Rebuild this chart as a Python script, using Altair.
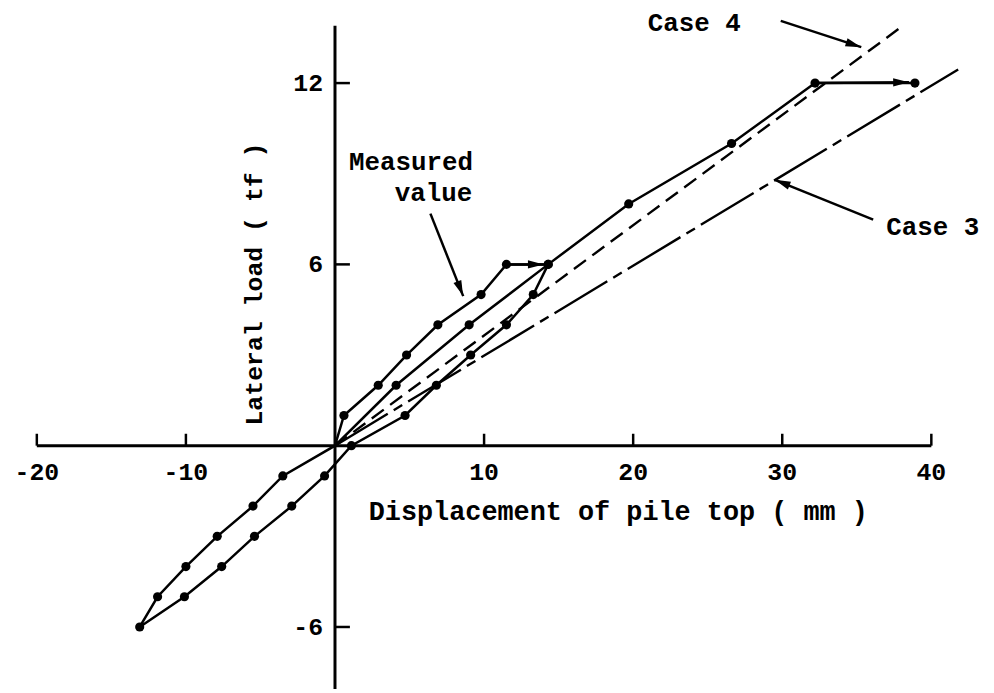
import altair as alt
import pandas as pd
import numpy as np

# ---------------- data ----------------
# measured load path (mm, tf) in loading order
meas_x = [0, 0.6, 2.9, 4.8, 6.9, 9.8, 11.5, 14.3, 13.3, 11.5, 9.1, 6.8, 4.7, 1.1,
          -0.7, -2.9, -5.4, -7.6, -10.1, -13.1, -11.9, -10.0, -7.9, -5.5, -3.5, 0,
          4.1, 9.0, 14.3, 19.7, 26.6, 32.2, 38.9]
meas_y = [0, 1, 2, 3, 4, 5, 6, 6, 5, 4, 3, 2, 1, 0,
          -1, -2, -3, -4, -5, -6, -5, -4, -3, -2, -1, 0,
          2, 4, 6, 8, 10, 12, 12]

# computed cases (straight lines from origin)
case_names = ["Case 4", "Case 3"]
case_x_end = [38.1, 41.8]
case_y_end = [13.9, 12.45]

# axes
x_ticks = [-20, -10, 10, 20, 30, 40]
x_tick_labels = ["-20", "-10", "10", "20", "30", "40"]
y_ticks = [12, 6, -6]
y_tick_labels = ["12", "6", "-6"]
x_axis_range = [-20, 40]
y_axis_range = [-8.05, 13.9]

# annotations
ann_text = ["Measured", "value", "Case 4", "Case 3"]
ann_x = [5.1, 6.6, 24.1, 40.1]
ann_y = [9.4, 8.35, 14.0, 7.25]

arrow_x0 = [6.4, 29.9, 36.1, 11.5, 32.2]
arrow_y0 = [7.68, 14.06, 7.48, 6.0, 12.0]
arrow_x1 = [8.6, 35.3, 29.5, 14.0, 38.5]
arrow_y1 = [4.95, 13.19, 8.8, 6.0, 12.03]

x_title = "Displacement of pile top ( mm )"
y_title = "Lateral load ( tf )"

# ---------------- layout ----------------
X_DOM = [-20, 43]
Y_DOM = [-8.05, 14.35]
W = 945
H = 681
PXX = W / (X_DOM[1] - X_DOM[0])
PXY = H / (Y_DOM[1] - Y_DOM[0])

FONT = "Liberation Mono"
xs = alt.Scale(domain=X_DOM, nice=False, zero=False)
ys = alt.Scale(domain=Y_DOM, nice=False, zero=False)


def X(f="x"):
    return alt.X(f"{f}:Q", scale=xs, axis=None)


def Y(f="y"):
    return alt.Y(f"{f}:Q", scale=ys, axis=None)


# axes lines
axes_df = pd.DataFrame({
    "x": [x_axis_range[0], 0], "x2": [x_axis_range[1], 0],
    "y": [0, y_axis_range[0]], "y2": [0, y_axis_range[1]],
})
axes = alt.Chart(axes_df).mark_rule(color="black", strokeWidth=3).encode(
    x=X(), x2="x2:Q", y=Y(), y2="y2:Q")

xt_df = pd.DataFrame({"x": x_ticks, "y": 0, "y2": 12 / PXY, "lab": x_tick_labels})
xt = alt.Chart(xt_df).mark_rule(color="black", strokeWidth=2.5).encode(
    x=X(), y=Y(), y2="y2:Q")
xl = alt.Chart(xt_df).mark_text(font=FONT, fontSize=25, fontWeight="bold",
                                dy=27, align="center", baseline="middle").encode(
    x=X(), y=Y(), text="lab:N")

yt_df = pd.DataFrame({"x": 0, "x2": 15 / PXX, "y": y_ticks, "lab": y_tick_labels})
yt = alt.Chart(yt_df).mark_rule(color="black", strokeWidth=2.5).encode(
    x=X(), x2="x2:Q", y=Y())
yl = alt.Chart(yt_df).mark_text(font=FONT, fontSize=25, fontWeight="bold",
                                dx=-12, align="right", baseline="middle").encode(
    x=X(), y=Y(), text="lab:N")

# case lines
c4 = pd.DataFrame({"x": [0, case_x_end[0]], "y": [0, case_y_end[0]]})
c3 = pd.DataFrame({"x": [0, case_x_end[1]], "y": [0, case_y_end[1]]})
case4 = alt.Chart(c4).mark_line(color="black", strokeWidth=2.4, strokeDash=[15, 8]).encode(x=X(), y=Y())
case3 = alt.Chart(c3).mark_line(color="black", strokeWidth=2.4, strokeDash=[62, 7, 10, 7]).encode(x=X(), y=Y())

# measured
mdf = pd.DataFrame({"x": meas_x, "y": meas_y, "o": range(len(meas_x))})
mline = alt.Chart(mdf).mark_line(color="black", strokeWidth=2.5).encode(
    x=X(), y=Y(), order="o:Q")
mpts = alt.Chart(mdf).transform_filter("datum.x != 0 || datum.y != 0").mark_point(
    filled=True, color="black", opacity=1, size=85, shape="circle").encode(x=X(), y=Y())

# arrows
adf = pd.DataFrame({"x": arrow_x0, "y": arrow_y0, "x2": arrow_x1, "y2": arrow_y1})
adf["ang"] = (np.degrees(np.arctan2((adf["x2"] - adf["x"]) * PXX,
                                    (adf["y2"] - adf["y"]) * PXY)) + 360) % 360
shafts = alt.Chart(adf).mark_rule(color="black", strokeWidth=2.5).encode(
    x=X(), x2="x2:Q", y=Y(), y2="y2:Q")
heads = alt.Chart(adf).mark_point(filled=True, color="black", opacity=1, size=280,
                                  shape="M0,0L0.5,1.9L-0.5,1.9Z").encode(
    x=X("x2"), y=Y("y2"), angle=alt.Angle("ang:Q", scale=None))

# annotation texts
tdf = pd.DataFrame({"x": ann_x, "y": ann_y, "t": ann_text})
texts = alt.Chart(tdf).mark_text(font=FONT, fontSize=26, fontWeight="bold",
                                 align="center", baseline="middle").encode(
    x=X(), y=Y(), text="t:N")

# axis titles
xtd = pd.DataFrame({"x": [19.0], "y": [-2.2], "t": [x_title]})
xtitle = alt.Chart(xtd).mark_text(font=FONT, fontSize=27, fontWeight="bold",
                                  align="center", baseline="middle").encode(
    x=X(), y=Y(), text="t:N")
ytd = pd.DataFrame({"x": [-5.4], "y": [5.35], "t": [y_title]})
ytitle = alt.Chart(ytd).mark_text(font=FONT, fontSize=25, fontWeight="bold", angle=270,
                                  align="center", baseline="middle").encode(
    x=X(), y=Y(), text="t:N")

chart = alt.layer(axes, xt, yt, xl, yl, case4, case3, mline, mpts, shafts, heads,
                  texts, xtitle, ytitle).properties(
    width=W, height=H,
    autosize=alt.AutoSizeParams(type="none"),
    padding={"left": 29, "top": 2, "right": 10, "bottom": 2},
    background="white",
).configure_view(stroke=None)

chart.save("out.html", embed_options={"renderer": "svg", "actions": False})
